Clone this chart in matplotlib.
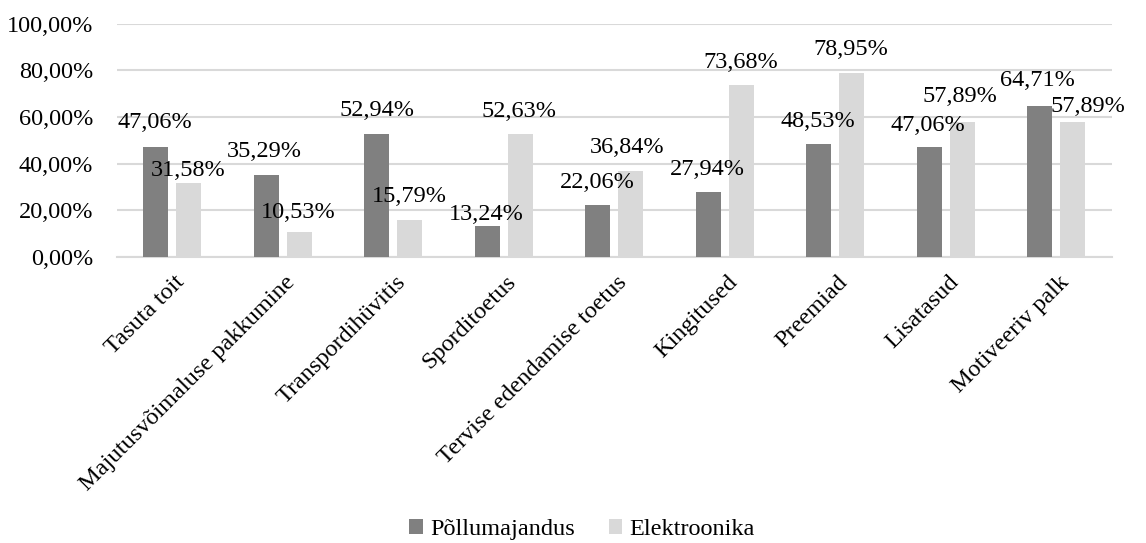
import numpy as np
import matplotlib
matplotlib.use('Agg')
import matplotlib.pyplot as plt
from matplotlib.ticker import FuncFormatter

plt.rcParams['font.family'] = ['Liberation Serif', 'DejaVu Serif']

categories = ['Tasuta toit', 'Majutusvõimaluse pakkumine', 'Transpordihüvitis',
              'Sporditoetus', 'Tervise edendamise toetus', 'Kingitused',
              'Preemiad', 'Lisatasud', 'Motiveeriv palk']
pollumajandus = [47.06, 35.29, 52.94, 13.24, 22.06, 27.94, 48.53, 47.06, 64.71]
elektroonika = [31.58, 10.53, 15.79, 52.63, 36.84, 73.68, 78.95, 57.89, 57.89]

# label offsets in pixels (dx, dy) from the bar top
off_p = [(-1, 25), (-2, 23), (0, 23), (-1, 11), (0, 23), (-1, 22), (-1, 22), (-1, 22), (-2, 26)]
off_e = [(0, 13), (-1, 20), (0, 24), (-1, 23), (-4, 24), (0, 23), (-1, 23), (-2, 25), (15, 15)]

DARK = '#808080'
LIGHT = '#d9d9d9'
FS = 17.5

fig = plt.figure(figsize=(11.46, 5.43), dpi=100)
ax = fig.add_axes([0.102, 0.527, 0.868, 0.429])

x = np.arange(len(categories))
w = 0.226
d = 0.149
b1 = ax.bar(x - d, np.array(pollumajandus) / 100, w, color=DARK, label='Põllumajandus', zorder=3)
b2 = ax.bar(x + d, np.array(elektroonika) / 100, w, color=LIGHT, label='Elektroonika', zorder=3)

def pct(v):
    return ('%.2f%%' % v).replace('.', ',')

for bars, vals, offs in ((b1, pollumajandus, off_p), (b2, elektroonika, off_e)):
    for r, v, (dx, dy) in zip(bars, vals, offs):
        ax.annotate(pct(v), (r.get_x() + r.get_width() / 2, v / 100),
                    xytext=(dx, dy), textcoords='offset pixels',
                    ha='center', va='center', fontsize=FS, color='black', zorder=4)

ax.set_xlim(-0.5, len(categories) - 0.5)
ax.set_ylim(0, 1)
ax.set_yticks(np.arange(0, 1.01, 0.2))
ax.yaxis.set_major_formatter(FuncFormatter(lambda v, p: pct(v * 100)))
ax.grid(axis='y', color=LIGHT, linewidth=1.5, zorder=0)
for s in ['top', 'right', 'left']:
    ax.spines[s].set_visible(False)
ax.spines['bottom'].set_color(LIGHT)
ax.spines['bottom'].set_linewidth(1.5)
ax.tick_params(axis='both', length=0, labelsize=FS)
ax.tick_params(axis='y', pad=17)

ax.set_xticks(x)
ax.set_xticklabels(categories, rotation=45, ha='right', va='top', rotation_mode='anchor')
for t in ax.get_xticklabels():
    t.set_transform(t.get_transform() + matplotlib.transforms.ScaledTranslation(0.02, -0.10, fig.dpi_scale_trans))

fig.legend(handles=[b1, b2], loc='center', bbox_to_anchor=(0.508, 0.025), ncol=2,
           frameon=False, fontsize=FS, handlelength=0.55, handleheight=0.55,
           handletextpad=0.3, columnspacing=1.4)

fig.savefig('out.png', dpi=100)
